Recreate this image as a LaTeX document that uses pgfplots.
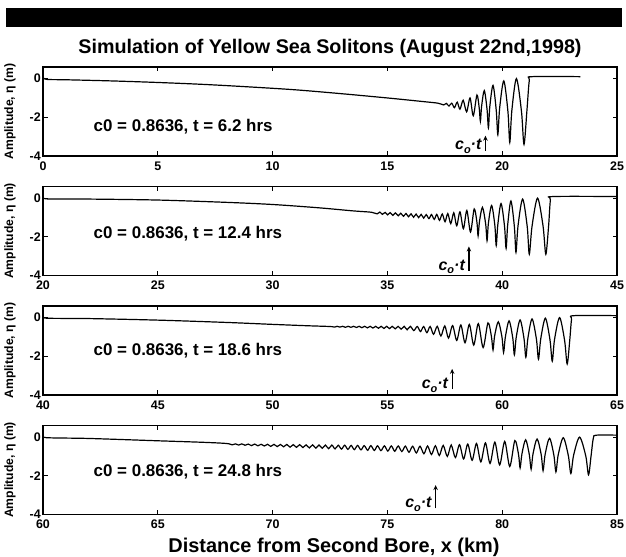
\documentclass[border=0pt]{standalone}
\usepackage{fontspec}
\setmainfont{Liberation Sans}
\usepackage{pgfplots}
\pgfplotsset{compat=1.18}
\usetikzlibrary{arrows.meta}
\pgfplotsset{
  solpanel/.style={
    scale only axis, width=574bp, height=89bp,
    ymin=-4, ymax=0.6, ytick={-4,-2,0},
    tick align=inside, major tick length=4.5bp,
    axis line style={line width=1.3bp},
    every tick/.style={black, line width=1bp},
    tick label style={font=\fontsize{12.5}{12.5}\selectfont\bfseries},
    /pgf/number format/assume math mode=true,
    xticklabel style={inner xsep=1bp, inner ysep=5.5bp},
    yticklabel style={inner xsep=2bp, inner ysep=0bp},
    ylabel={Amplitude, η (m)},
    ylabel style={font=\fontsize{12.2}{12.2}\selectfont\bfseries, at={(axis description cs:-0.0575,0.5)}, anchor=center},
  },
}
\tikzset{
  wave/.style={black, line width=1.2bp, smooth},
  info/.style={anchor=west, inner sep=0pt, font=\fontsize{17}{17}\selectfont\bfseries},
  cot/.style={anchor=base east, inner sep=0pt, font=\fontsize{16}{16}\selectfont\bfseries\itshape},
  cotarrow/.style={-{Stealth[length=5bp,width=4.5bp]}, line width=1.2bp},
}
\newcommand{\cotlabel}{c\raisebox{-0.45ex}{\fontsize{11}{11}\selectfont o}·t}
\begin{document}
\begin{tikzpicture}
\path[use as bounding box] (0,0) rectangle (626bp,557bp);
\fill[black] (6bp,530bp) rectangle (622bp,549bp);
\node[font=\fontsize{19.8}{20}\selectfont\bfseries, anchor=base] at (330bp,503bp) {Simulation of Yellow Sea Solitons (August 22nd,1998)};
\node[font=\fontsize{20}{20}\selectfont\bfseries, anchor=base] at (334bp,4.5bp) {Distance from Second Bore, x (km)};

% Panel 1
\begin{axis}[solpanel, at={(43bp,401bp)}, anchor=south west, xmin=0, xmax=25, xtick={0,5,...,25}]
\addplot[wave] coordinates {
(0,0.08) (0.15,-0.04) (1,-0.06) (3,-0.12) (5,-0.2) (7,-0.3) (9,-0.43) (11,-0.58) (13,-0.78) (15,-1.0) (16.5,-1.18) (17.2,-1.27)
(17.45,-1.36) (17.57,-1.28) (17.68,-1.42) (17.8,-1.27) (17.92,-1.5) (18.04,-1.22)
(18.16,-1.58) (18.3,-1.12) (18.45,-1.72) (18.6,-1.0) (18.74,-1.92) (18.9,-0.85)
(19.0,-1.53) (19.05,-2.2) (19.105,-1.41) (19.22,-0.62)
(19.34,-1.59) (19.40,-2.55) (19.46,-1.45) (19.6,-0.35)
(19.74,-1.63) (19.81,-2.9) (19.89,-1.51) (20.07,-0.12)
(20.25,-1.71) (20.33,-3.3) (20.42,-1.65) (20.62,0.0)
(20.84,-1.7) (20.95,-3.4) (21.08,-1.6) (21.18,-0.1) (21.3,0.1) (23.4,0.1)
};
\node[info] at (axis cs:2.2,-2.5) {c0 = 0.8636, t = 6.2 hrs};
\draw[cotarrow] (axis cs:19.27,-3.72) -- (axis cs:19.27,-2.95);
\node[cot] at (axis cs:19.1,-3.65) {\cotlabel};
\end{axis}

% Panel 2
\begin{axis}[solpanel, at={(43bp,281.5bp)}, anchor=south west, xmin=20, xmax=45, xtick={20,25,...,45}]
\addplot[wave] coordinates {
(20,0.08) (20.15,-0.04) (22,-0.05) (25,-0.1) (28,-0.22) (30,-0.33) (32,-0.5) (33.5,-0.66) (34.3,-0.73)
(34.55,-0.815) (34.67,-0.72) (34.78,-0.84) (34.9,-0.74) (35.01,-0.865) (35.12,-0.75)
(35.24,-0.89) (35.35,-0.765) (35.47,-0.915) (35.58,-0.78) (35.7,-0.94) (35.81,-0.795)
(35.92,-0.965) (36.03,-0.81) (36.14,-0.99) (36.25,-0.825) (36.36,-1.01) (36.47,-0.84)
(36.58,-1.035) (36.69,-0.85) (36.81,-1.06) (36.92,-0.85) (37.04,-1.1) (37.15,-0.84)
(37.27,-1.15) (37.39,-0.82) (37.51,-1.22) (37.63,-0.8) (37.76,-1.32) (37.89,-0.76)
(38.02,-1.43) (38.16,-0.71) (38.31,-1.58) (38.46,-0.64) (38.62,-1.75) (38.78,-0.56)
(38.90,-1.255) (38.95,-1.95) (39.01,-1.215) (39.14,-0.48)
(39.28,-1.34) (39.34,-2.2) (39.40,-1.29) (39.54,-0.38)
(39.68,-1.415) (39.74,-2.45) (39.81,-1.365) (39.95,-0.28)
(40.10,-1.44) (40.17,-2.6) (40.24,-1.375) (40.38,-0.15)
(40.53,-1.475) (40.6,-2.8) (40.69,-1.425) (40.89,-0.05)
(41.09,-1.475) (41.18,-2.9) (41.30,-1.45) (41.54,0.0)
(41.78,-1.45) (41.9,-2.9) (42.02,-1.45) (42.1,-0.1) (42.22,0.08) (45,0.08)
};
\node[info] at (axis cs:22.2,-1.85) {c0 = 0.8636, t = 12.4 hrs};
\draw[cotarrow] (axis cs:38.55,-3.75) -- (axis cs:38.55,-2.5);
\node[cot] at (axis cs:38.38,-3.72) {\cotlabel};
\end{axis}

% Panel 3
\begin{axis}[solpanel, at={(43bp,162bp)}, anchor=south west, xmin=40, xmax=65, xtick={40,45,...,65}]
\addplot[wave] coordinates {
(40,0.08) (40.15,-0.03) (42,-0.05) (45,-0.13) (48,-0.25) (50,-0.35) (51.5,-0.42) (52.5,-0.46)
(52.7,-0.49) (52.81,-0.45) (52.93,-0.49) (53.05,-0.45) (53.17,-0.5) (53.29,-0.45)
(53.41,-0.5) (53.53,-0.45) (53.65,-0.51) (53.77,-0.45) (53.89,-0.52) (54.01,-0.45)
(54.13,-0.53) (54.25,-0.45) (54.37,-0.54) (54.49,-0.45) (54.61,-0.55) (54.73,-0.45)
(54.85,-0.56) (54.97,-0.45) (55.09,-0.57) (55.21,-0.45) (55.34,-0.58) (55.47,-0.45)
(55.6,-0.6) (55.73,-0.45) (55.86,-0.63) (56.0,-0.45) (56.15,-0.67) (56.3,-0.46)
(56.44,-0.72) (56.58,-0.46) (56.72,-0.78) (56.86,-0.46) (57.01,-0.86) (57.17,-0.45)
(57.33,-0.95) (57.5,-0.43) (57.66,-1.06) (57.84,-0.41) (58.02,-1.18) (58.2,-0.38)
(58.38,-1.3) (58.57,-0.35) (58.76,-1.42) (58.96,-0.31) (59.17,-1.55) (59.38,-0.27)
(59.53,-0.97) (59.6,-1.67) (59.67,-0.945) (59.83,-0.22)
(59.99,-1.01) (60.06,-1.8) (60.14,-0.985) (60.3,-0.17)
(60.46,-1.05) (60.53,-1.93) (60.61,-1.025) (60.78,-0.12)
(60.95,-1.085) (61.03,-2.05) (61.12,-1.06) (61.3,-0.07)
(61.49,-1.11) (61.58,-2.15) (61.68,-1.09) (61.88,-0.03)
(62.08,-1.14) (62.18,-2.25) (62.28,-1.125) (62.5,0.0)
(62.72,-1.2) (62.83,-2.4) (62.94,-1.2) (63.02,-0.1) (63.12,0.1) (65,0.1)
};
\node[info] at (axis cs:42.2,-1.72) {c0 = 0.8636, t = 18.6 hrs};
\draw[cotarrow] (axis cs:57.82,-3.7) -- (axis cs:57.82,-2.65);
\node[cot] at (axis cs:57.65,-3.67) {\cotlabel};
\end{axis}

% Panel 4
\begin{axis}[solpanel, at={(43bp,42.5bp)}, anchor=south west, xmin=60, xmax=85, xtick={60,65,...,85}]
\addplot[wave] coordinates {
(60,0.08) (60.15,-0.03) (62,-0.07) (65,-0.19) (67,-0.27) (68.0,-0.33)
(68.24,-0.40) (68.38,-0.35) (68.52,-0.41) (68.66,-0.35) (68.8,-0.42) (68.94,-0.36)
(69.08,-0.44) (69.22,-0.36) (69.36,-0.45) (69.5,-0.37) (69.64,-0.46) (69.78,-0.37)
(69.92,-0.48) (70.06,-0.375) (70.2,-0.49) (70.34,-0.38) (70.48,-0.5) (70.62,-0.38)
(70.76,-0.52) (70.9,-0.39) (71.04,-0.53) (71.18,-0.39) (71.32,-0.54) (71.46,-0.4)
(71.6,-0.56) (71.74,-0.4) (71.88,-0.57) (72.02,-0.405) (72.16,-0.58) (72.3,-0.41)
(72.44,-0.6) (72.58,-0.41) (72.72,-0.61) (72.86,-0.42) (73.0,-0.62) (73.14,-0.42)
(73.28,-0.635) (73.42,-0.43) (73.56,-0.65) (73.7,-0.43) (73.85,-0.66) (73.99,-0.44)
(74.14,-0.68) (74.28,-0.44) (74.43,-0.69) (74.57,-0.45) (74.72,-0.7) (74.87,-0.45)
(75.02,-0.72) (75.17,-0.455) (75.32,-0.73) (75.47,-0.46) (75.63,-0.745) (75.78,-0.465)
(75.94,-0.78) (76.1,-0.47) (76.26,-0.82) (76.42,-0.47) (76.59,-0.86) (76.75,-0.46)
(76.92,-0.9) (77.09,-0.45) (77.26,-0.95) (77.43,-0.43) (77.61,-1.0) (77.78,-0.41)
(77.96,-1.06) (78.14,-0.39) (78.32,-1.13) (78.5,-0.36) (78.69,-1.2) (78.88,-0.33)
(79.07,-1.28) (79.27,-0.3) (79.47,-1.36) (79.68,-0.26) (79.89,-1.44) (80.11,-0.22)
(80.33,-1.52) (80.55,-0.18)
(80.71,-0.885) (80.78,-1.59) (80.86,-0.865) (81.02,-0.14)
(81.18,-0.9) (81.26,-1.66) (81.34,-0.88) (81.52,-0.1)
(81.70,-0.915) (81.78,-1.73) (81.87,-0.895) (82.06,-0.06)
(82.25,-0.93) (82.34,-1.8) (82.44,-0.915) (82.66,-0.03)
(82.88,-0.955) (82.99,-1.88) (83.11,-0.94) (83.37,0.0)
(83.64,-0.975) (83.76,-1.95) (83.87,-0.975) (83.97,-0.05) (84.1,0.1) (85,0.1)
};
\node[info] at (axis cs:62.2,-1.8) {c0 = 0.8636, t = 24.8 hrs};
\draw[cotarrow] (axis cs:77.1,-3.68) -- (axis cs:77.1,-2.48);
\node[cot] at (axis cs:76.93,-3.65) {\cotlabel};
\end{axis}
\end{tikzpicture}
\end{document}
